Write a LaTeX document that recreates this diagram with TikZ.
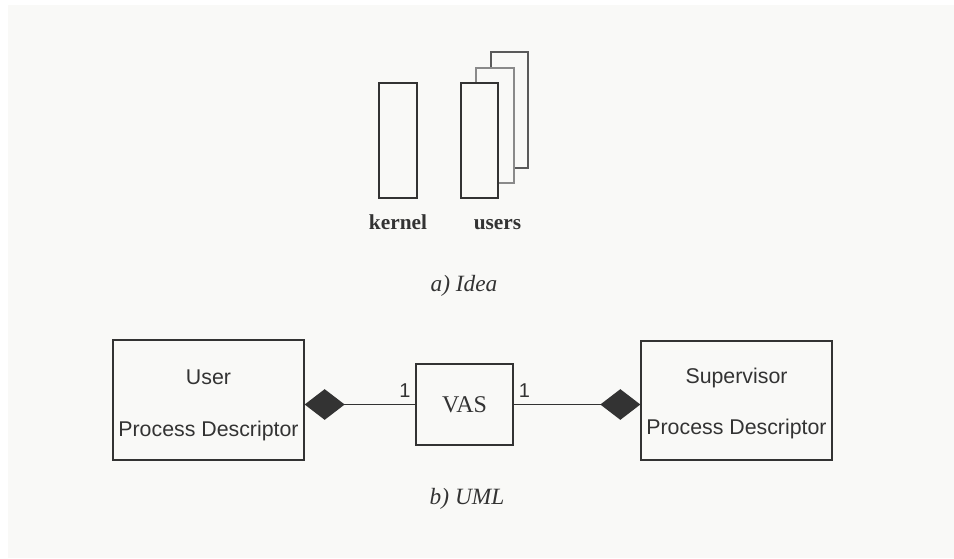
\documentclass[tikz,border=0pt]{standalone}
\usepackage{fontspec}
\setmainfont{Liberation Serif}
\setsansfont{Liberation Sans}
\usetikzlibrary{arrows.meta}
\definecolor{bgc}{HTML}{F9F9F7}
\definecolor{ink}{HTML}{333333}
\definecolor{inkmid}{HTML}{8A8A8A}
\definecolor{inkback}{HTML}{5A5A5A}
\newdimen\px
\px=0.75pt
\begin{document}
\begin{tikzpicture}[x=0.75pt,y=-0.75pt,
  box/.style={draw=ink,line width=1pt,fill=bgc,inner sep=0pt},
  sanslbl/.style={font=\sffamily\fontsize{16}{19}\selectfont,text=ink,inner sep=0pt,anchor=base},
  mult/.style={font=\sffamily\fontsize{15}{18}\selectfont,text=ink,inner sep=0pt,anchor=base},
  boldlbl/.style={font=\bfseries\fontsize{16}{19}\selectfont,text=ink,inner sep=0pt,anchor=base},
  caption/.style={font=\itshape\fontsize{17.5}{21}\selectfont,text=ink,inner sep=0pt,anchor=base},
  comp/.style={draw=ink,line width=1pt,{Diamond[length=30pt,width=23pt,fill=ink]}-}
]
\useasboundingbox (0,0) rectangle (954,558);
\fill[bgc] (8,5) rectangle (954,558);

% a) Idea
\node[box,minimum width=38\px,minimum height=115\px] (kernel) at (398,140.5) {};
\node[box,draw=inkback,minimum width=37\px,minimum height=116\px] (u3) at (509.5,110) {};
\node[box,draw=inkmid,minimum width=38\px,minimum height=115\px] (u2) at (495,125.5) {};
\node[box,minimum width=37\px,minimum height=115\px] (u1) at (479.5,140.5) {};
\node[boldlbl] (kl) at (398,229) {kernel};
\node[boldlbl] (ul) at (497.5,229) {users};
\node[caption] (ca) at (464,291) {a) Idea};

% b) UML
\node[box,minimum width=191\px,minimum height=120\px] (user) at (208.5,400) {};
\node[sanslbl] (userl1) at (208.5,384) {User};
\node[sanslbl] (userl2) at (208.5,436) {Process Descriptor};
\node[box,minimum width=97\px,minimum height=81\px,font=\fontsize{18}{21}\selectfont,text=ink] (vas) at (464.5,404.5) {VAS};
\node[box,minimum width=191\px,minimum height=119\px] (sup) at (736.5,400.5) {};
\node[sanslbl] (supl1) at (736.5,383) {Supervisor};
\node[sanslbl] (supl2) at (736.5,434.5) {Process Descriptor};

\draw[comp] (vas.west -| user.east) -- (vas.west);
\draw[comp] (vas.east -| sup.west) -- (vas.east);
\node[mult] (m1) at (405,397) {1};
\node[mult] (m2) at (524.5,397) {1};

\node[caption] (cb) at (467,504) {b) UML};
\end{tikzpicture}
\end{document}
